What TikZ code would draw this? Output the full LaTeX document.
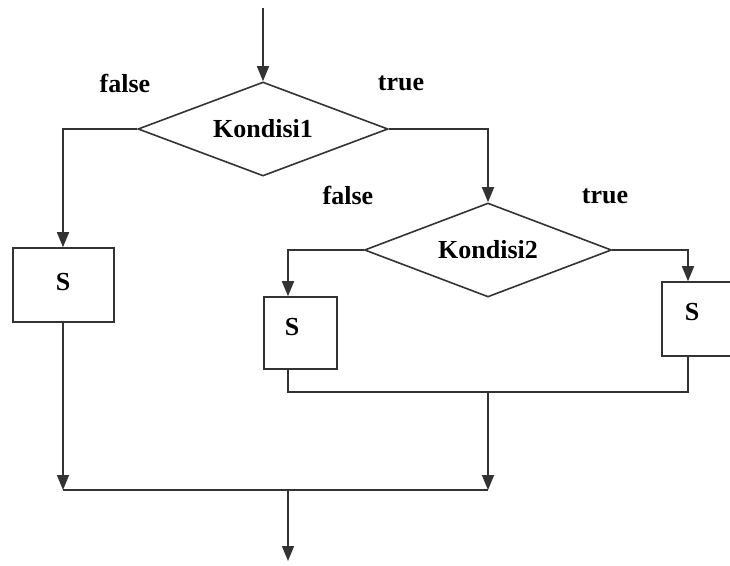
\documentclass[tikz,border=0pt]{standalone}
\usepackage{fontspec}
\setmainfont{Liberation Serif}
\usetikzlibrary{shapes.geometric,arrows.meta}
\begin{document}
\begin{tikzpicture}[x=1pt,y=-1pt,
  font=\fontsize{26}{30}\selectfont\bfseries,
  line width=1.6pt,
  lc/.style={draw=black!80},
  dec/.style={lc, shape=diamond, aspect=2.66, minimum width=250pt, minimum height=94pt, inner sep=0pt},
  box/.style={lc, rectangle, inner sep=0pt},
  arr/.style={lc, -{Triangle[width=12pt,length=15pt]}},
  ln/.style={lc},
  lbl/.style={inner sep=0pt}]
\useasboundingbox (0,0) rectangle (730,565);
\clip (0,0) rectangle (730,565);
% nodes
\coordinate (start) at (263,8);
\node[dec] (d1) at (263,129) {Kondisi1};
\node[box, minimum width=101pt, minimum height=74pt,
  label={[lbl, xshift=-0.5pt, yshift=3pt]center:S}] (s1) at (63.5,285) {};
\node[dec, minimum width=247pt] (d2) at (488,250) {Kondisi2};
\node[box, minimum width=73pt, minimum height=72pt,
  label={[lbl, xshift=-8.5pt, yshift=6pt]center:S}] (s2) at (300.5,333) {};
\node[box, minimum width=78pt, minimum height=74pt,
  label={[lbl, xshift=-9pt, yshift=7pt]center:S}] (s3) at (701,319) {};
% labels
\node[lbl] (f1) at (125,83) {false};
\node[lbl] (t1) at (401,83) {true};
\node[lbl] (f2) at (348,195) {false};
\node[lbl] (t2) at (605,196) {true};
% junctions
\coordinate (m2) at (488,392);
\coordinate (m1) at (488,490);
\coordinate (end) at (288,561);
% connectors
\draw[arr] (start) -- (d1.north);
\draw[arr] (d1.west) -| ([xshift=-0.5pt]s1.north);
\draw[arr] (d1.east) -| (d2.north);
\draw[arr] (d2.west) -| ([xshift=-12.5pt]s2.north);
\draw[arr] (d2.east) -| ([xshift=-13pt]s3.north);
\draw[ln] ([xshift=-12.5pt]s2.south) |- (m2) -| ([xshift=-13pt]s3.south);
\draw[arr] (m2) -- (m1);
\draw[arr] ([xshift=-0.5pt]s1.south) -- ([xshift=-0.5pt]s1.south |- m1);
\draw[ln] ([xshift=-0.5pt]s1.south |- m1) -- (m1);
\draw[arr] (end |- m1) -- (end);
\end{tikzpicture}
\end{document}
